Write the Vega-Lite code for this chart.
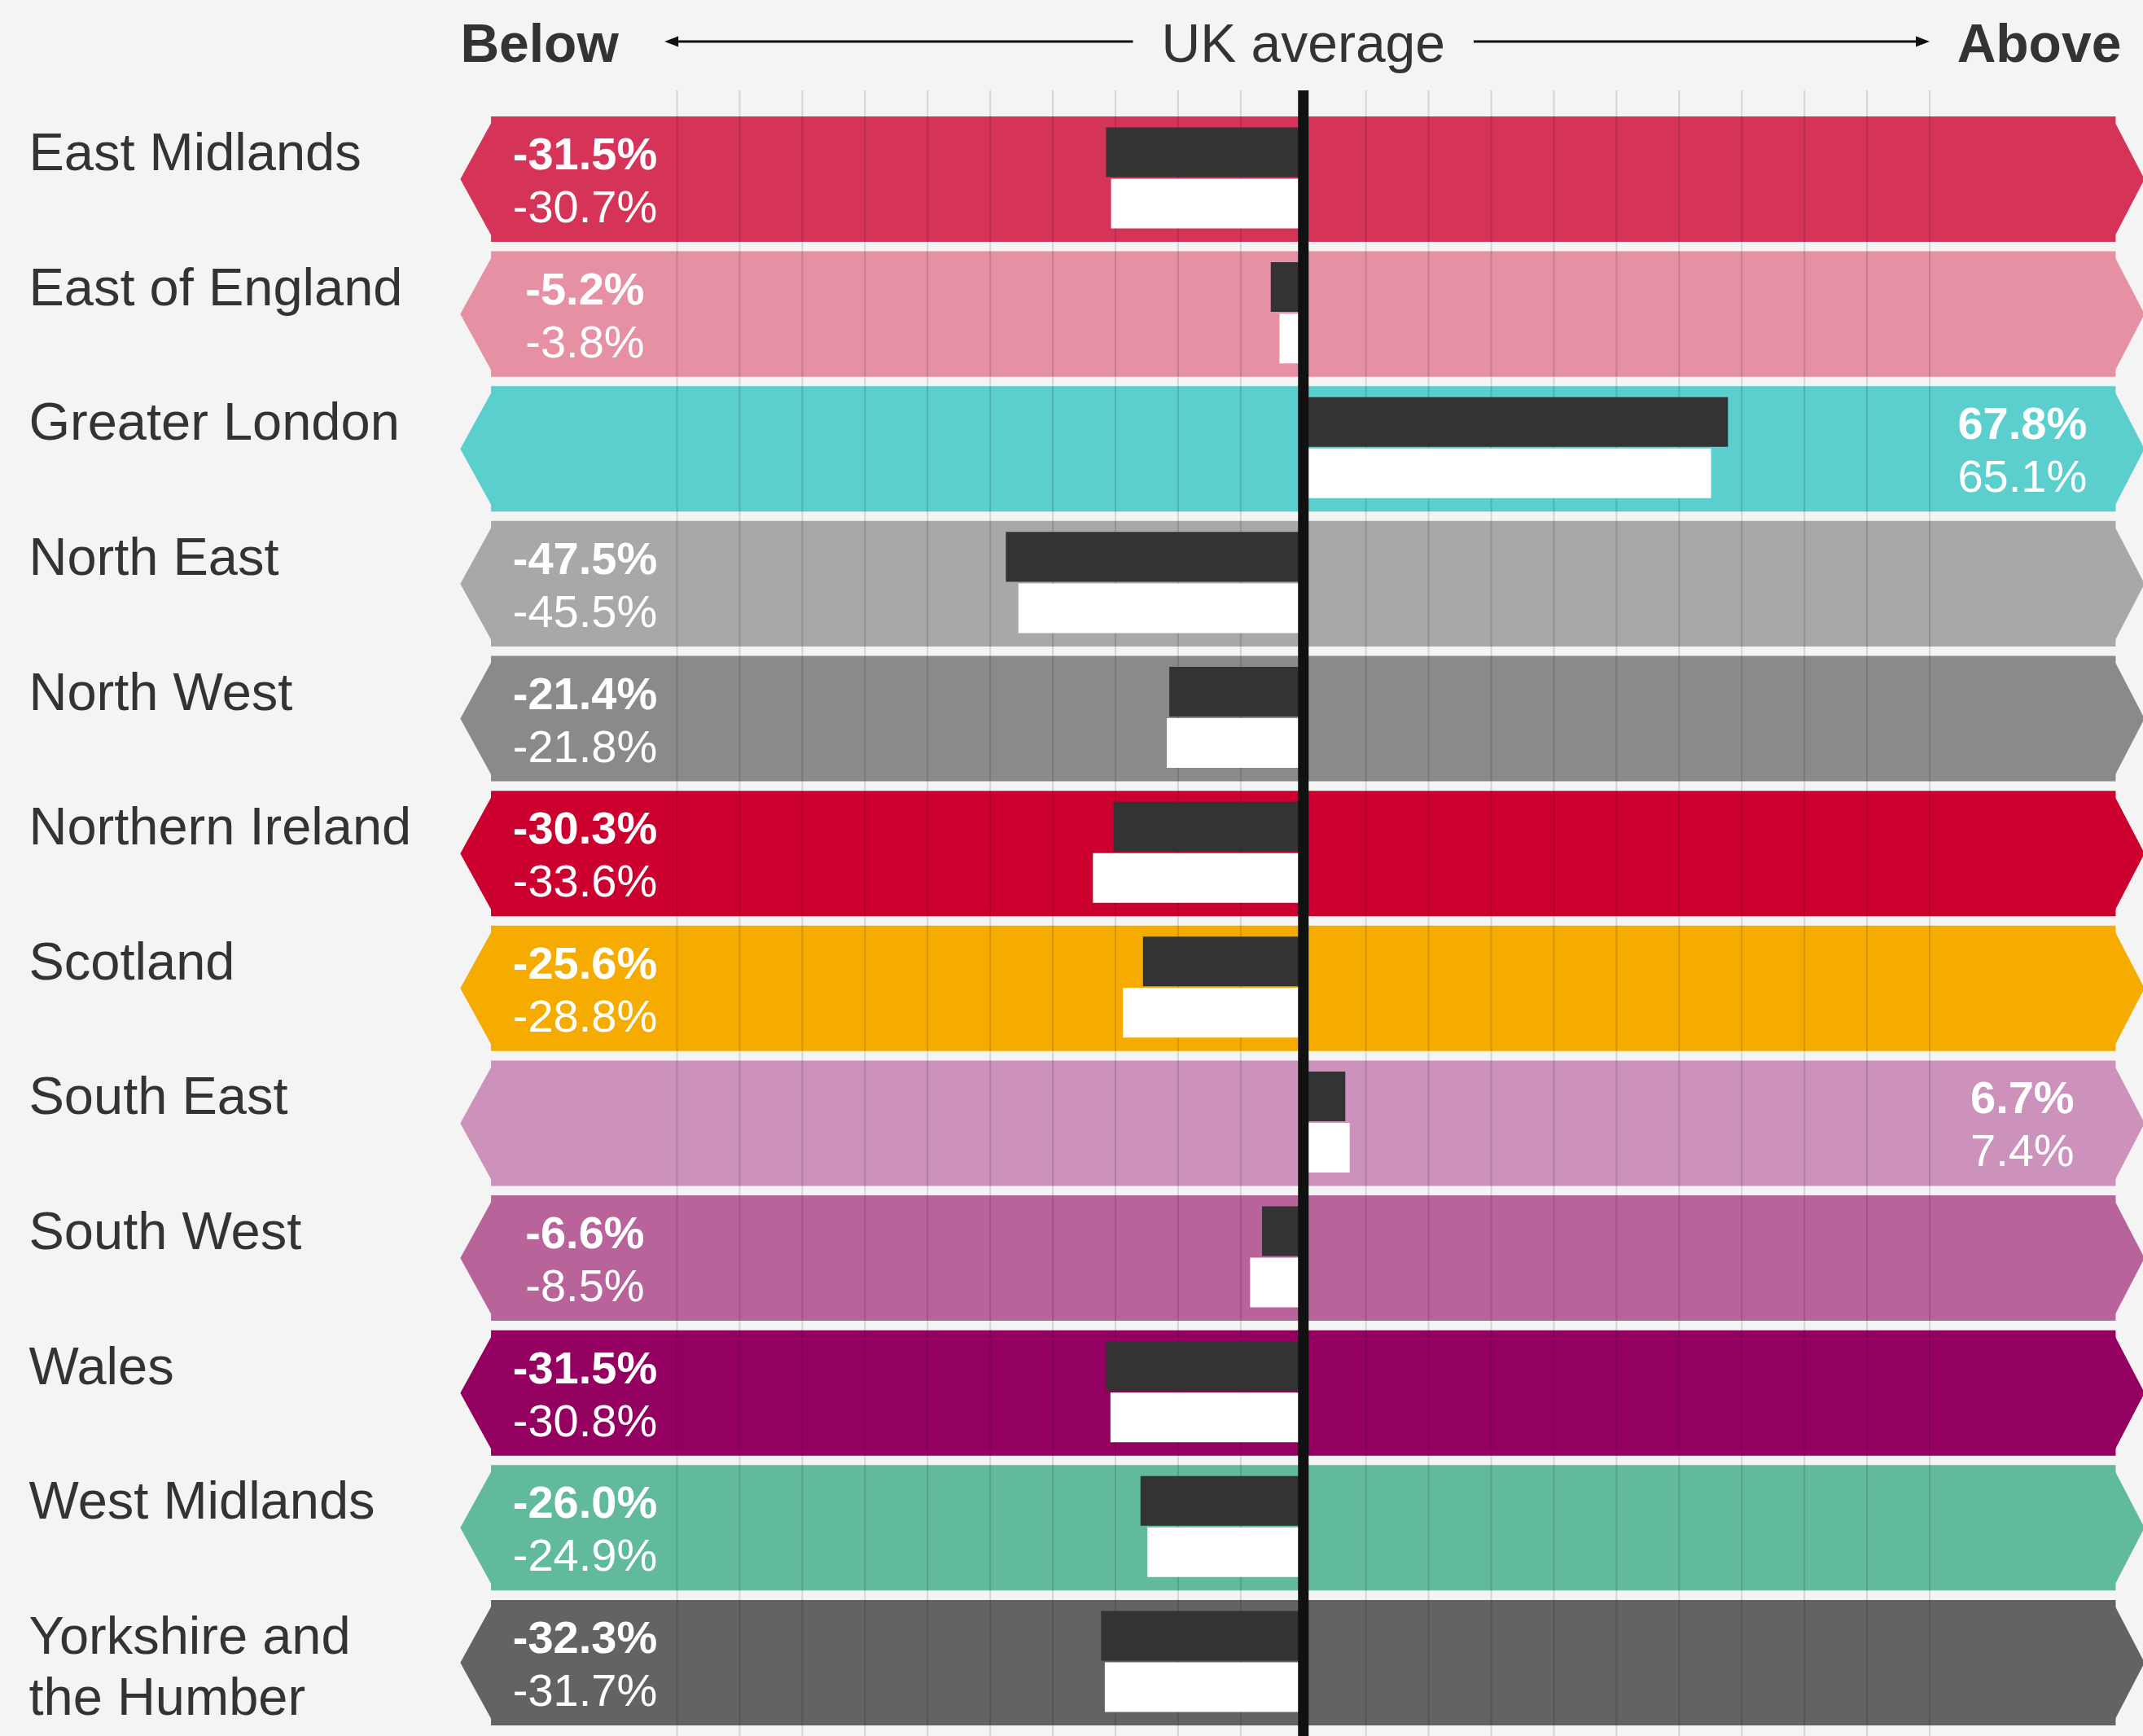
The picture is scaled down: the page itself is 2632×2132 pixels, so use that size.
{
  "$schema": "https://vega.github.io/schema/vega-lite/v6.json",
  "background": "#f4f4f4",
  "padding": {"left": 35, "top": 0, "right": 0, "bottom": 0},
  "autosize": {"type": "pad"},
  "bounds": "flush",
  "spacing": 9,
  "config": {"view": {"stroke": null}, "font": "Liberation Sans"},
  "datasets": {
    "regions": [
      {"region": "East Midlands", "series": "first", "value": -31.5},
      {"region": "East Midlands", "series": "second", "value": -30.7},
      {"region": "East of England", "series": "first", "value": -5.2},
      {"region": "East of England", "series": "second", "value": -3.8},
      {"region": "Greater London", "series": "first", "value": 67.8},
      {"region": "Greater London", "series": "second", "value": 65.1},
      {"region": "North East", "series": "first", "value": -47.5},
      {"region": "North East", "series": "second", "value": -45.5},
      {"region": "North West", "series": "first", "value": -21.4},
      {"region": "North West", "series": "second", "value": -21.8},
      {"region": "Northern Ireland", "series": "first", "value": -30.3},
      {"region": "Northern Ireland", "series": "second", "value": -33.6},
      {"region": "Scotland", "series": "first", "value": -25.6},
      {"region": "Scotland", "series": "second", "value": -28.8},
      {"region": "South East", "series": "first", "value": 6.7},
      {"region": "South East", "series": "second", "value": 7.4},
      {"region": "South West", "series": "first", "value": -6.6},
      {"region": "South West", "series": "second", "value": -8.5},
      {"region": "Wales", "series": "first", "value": -31.5},
      {"region": "Wales", "series": "second", "value": -30.8},
      {"region": "West Midlands", "series": "first", "value": -26.0},
      {"region": "West Midlands", "series": "second", "value": -24.9},
      {"region": "Yorkshire and the Humber", "series": "first", "value": -32.3},
      {"region": "Yorkshire and the Humber", "series": "second", "value": -31.7}
    ],
    "grid": [
      {"tick": -100}, {"tick": -90}, {"tick": -80}, {"tick": -70}, {"tick": -60},
      {"tick": -50}, {"tick": -40}, {"tick": -30}, {"tick": -20}, {"tick": -10},
      {"tick": 10}, {"tick": 20}, {"tick": 30}, {"tick": 40}, {"tick": 50},
      {"tick": 60}, {"tick": 70}, {"tick": 80}, {"tick": 90}, {"tick": 100}
    ]
  },
  "vconcat": [
    {
      "width": 2061.5,
      "height": 102,
      "data": {"values": [{"caption": "UK average"}]},
      "layer": [
        {
          "mark": {"type": "text", "fontSize": 66, "fontWeight": "bold", "color": "#333333", "align": "left", "baseline": "alphabetic", "dy": 25},
          "encoding": {
            "x": {"datum": -134.6, "type": "quantitative", "scale": {"domain": [-134, 134], "nice": false, "zero": false}, "axis": null},
            "text": {"value": "Below"}
          }
        },
        {
          "mark": {"type": "text", "fontSize": 66, "color": "#333333", "align": "center", "baseline": "alphabetic", "dy": 25},
          "encoding": {
            "x": {"datum": 0, "type": "quantitative", "scale": {"domain": [-134, 134], "nice": false, "zero": false}, "axis": null},
            "text": {"field": "caption"}
          }
        },
        {
          "mark": {"type": "text", "fontSize": 66, "fontWeight": "bold", "color": "#333333", "align": "right", "baseline": "alphabetic", "dy": 25},
          "encoding": {
            "x": {"datum": 130.6, "type": "quantitative", "scale": {"domain": [-134, 134], "nice": false, "zero": false}, "axis": null},
            "text": {"value": "Above"}
          }
        },
        {
          "mark": {"type": "rule", "color": "#111111", "strokeWidth": 3},
          "encoding": {
            "x": {"datum": -100.5, "type": "quantitative", "scale": {"domain": [-134, 134], "nice": false, "zero": false}, "axis": null},
            "x2": {"datum": -27.2}
          }
        },
        {
          "mark": {"type": "rule", "color": "#111111", "strokeWidth": 3},
          "encoding": {
            "x": {"datum": 27.2, "type": "quantitative", "scale": {"domain": [-134, 134], "nice": false, "zero": false}, "axis": null},
            "x2": {"datum": 98.3}
          }
        },
        {
          "mark": {"type": "point", "shape": "M-0.85,0L0.85,-0.65L0.85,0.65Z", "size": 400, "filled": true, "opacity": 1, "color": "#111111", "strokeWidth": 0},
          "encoding": {
            "x": {"datum": -100.9, "type": "quantitative", "scale": {"domain": [-134, 134], "nice": false, "zero": false}, "axis": null}
          }
        },
        {
          "mark": {"type": "point", "shape": "M0.85,0L-0.85,-0.65L-0.85,0.65Z", "size": 400, "filled": true, "opacity": 1, "color": "#111111", "strokeWidth": 0},
          "encoding": {
            "x": {"datum": 98.9, "type": "quantitative", "scale": {"domain": [-134, 134], "nice": false, "zero": false}, "axis": null}
          }
        }
      ]
    },
    {
      "width": 2061.5,
      "height": 2021,
      "layer": [
        {
          "data": {"name": "regions"},
          "transform": [{"filter": "datum.series == 'first'"}],
          "mark": {"type": "bar"},
          "encoding": {
            "y": {
              "field": "region", "type": "nominal", "sort": null,
              "scale": {"type": "band", "domain": ["East Midlands", "East of England", "Greater London", "North East", "North West", "Northern Ireland", "Scotland", "South East", "South West", "Wales", "West Midlands", "Yorkshire and the Humber"], "paddingInner": 0.07, "paddingOuter": 0.136, "align": 0.71},
              "axis": {
                "title": null, "domain": false, "ticks": false, "tickSize": 0, "grid": false,
                "labelAlign": "left", "labelPadding": 535, "labelFontSize": 65, "labelColor": "#333333",
                "labelBaseline": "alphabetic", "labelOffset": -11, "labelLineHeight": 75, "labelLimit": 0, "labelOverlap": false,
                "labelExpr": "datum.value == 'Yorkshire and the Humber' ? ['Yorkshire and', 'the Humber'] : datum.label"
              }
            },
            "x": {"datum": -129.7, "type": "quantitative", "scale": {"domain": [-134, 134], "nice": false, "zero": false}, "axis": null},
            "x2": {"datum": 129.7},
            "color": {
              "field": "region", "type": "nominal",
              "scale": {
                "domain": ["East Midlands", "East of England", "Greater London", "North East", "North West", "Northern Ireland", "Scotland", "South East", "South West", "Wales", "West Midlands", "Yorkshire and the Humber"],
                "range": ["#d63358", "#e691a3", "#5bcece", "#a8a8a8", "#8a8a8a", "#cc002e", "#f5ab00", "#cc92bb", "#b8649b", "#930060", "#61bb9b", "#636363"]
              },
              "legend": null
            }
          }
        },
        {
          "data": {"name": "regions"},
          "transform": [{"filter": "datum.series == 'first'"}],
          "mark": {"type": "point", "shape": "M0.06,-1L-0.49,0L0.06,1Z", "size": 23716, "filled": true, "opacity": 1, "strokeWidth": 0},
          "encoding": {
            "y": {"field": "region", "type": "nominal", "sort": null},
            "x": {"datum": -129.7, "type": "quantitative", "scale": {"domain": [-134, 134], "nice": false, "zero": false}, "axis": null},
            "color": {"field": "region", "type": "nominal", "legend": null}
          }
        },
        {
          "data": {"name": "regions"},
          "transform": [{"filter": "datum.series == 'first'"}],
          "mark": {"type": "point", "shape": "M-0.06,-1L0.46,0L-0.06,1Z", "size": 23716, "filled": true, "opacity": 1, "strokeWidth": 0},
          "encoding": {
            "y": {"field": "region", "type": "nominal", "sort": null},
            "x": {"datum": 129.7, "type": "quantitative", "scale": {"domain": [-134, 134], "nice": false, "zero": false}, "axis": null},
            "color": {"field": "region", "type": "nominal", "legend": null}
          }
        },
        {
          "data": {"name": "grid"},
          "mark": {"type": "rule", "color": "#000000", "opacity": 0.13, "strokeWidth": 2},
          "encoding": {
            "x": {"field": "tick", "type": "quantitative", "scale": {"domain": [-134, 134], "nice": false, "zero": false}, "axis": null}
          }
        },
        {
          "data": {"name": "regions"},
          "transform": [{"filter": "datum.series == 'first'"}],
          "mark": {"type": "bar", "color": "#333333"},
          "encoding": {
            "y": {"field": "region", "type": "nominal", "sort": null},
            "yOffset": {"field": "series", "type": "nominal", "scale": {"domain": ["first", "second"], "paddingInner": 0.032, "paddingOuter": 0.238, "align": 0.45}},
            "x": {"field": "value", "type": "quantitative", "scale": {"domain": [-134, 134], "nice": false, "zero": false}, "axis": null}
          }
        },
        {
          "data": {"name": "regions"},
          "transform": [{"filter": "datum.series == 'second'"}],
          "mark": {"type": "bar", "color": "#ffffff"},
          "encoding": {
            "y": {"field": "region", "type": "nominal", "sort": null},
            "yOffset": {"field": "series", "type": "nominal"},
            "x": {"field": "value", "type": "quantitative", "scale": {"domain": [-134, 134], "nice": false, "zero": false}, "axis": null}
          }
        },
        {
          "data": {"values": [{"reference": "UK average"}]},
          "mark": {"type": "rule", "color": "#111111", "strokeWidth": 13},
          "encoding": {
            "x": {"datum": 0, "type": "quantitative", "scale": {"domain": [-134, 134], "nice": false, "zero": false}, "axis": null}
          }
        },
        {
          "data": {"name": "regions"},
          "transform": [{"filter": "datum.series == 'first' && datum.value < 0"}, {"calculate": "replace(format(datum.value, '.1f'), '\u2212', '-') + '%'", "as": "lab"}],
          "mark": {"type": "text", "fontSize": 56, "fontWeight": "bold", "color": "#ffffff", "align": "center", "baseline": "middle", "dy": 4},
          "encoding": {
            "y": {"field": "region", "type": "nominal", "sort": null},
            "yOffset": {"field": "series", "type": "nominal"},
            "x": {"datum": -114.7, "type": "quantitative", "scale": {"domain": [-134, 134], "nice": false, "zero": false}, "axis": null},
            "text": {"field": "lab"}
          }
        },
        {
          "data": {"name": "regions"},
          "transform": [{"filter": "datum.series == 'first' && datum.value >= 0"}, {"calculate": "replace(format(datum.value, '.1f'), '\u2212', '-') + '%'", "as": "lab"}],
          "mark": {"type": "text", "fontSize": 56, "fontWeight": "bold", "color": "#ffffff", "align": "center", "baseline": "middle", "dy": 4},
          "encoding": {
            "y": {"field": "region", "type": "nominal", "sort": null},
            "yOffset": {"field": "series", "type": "nominal"},
            "x": {"datum": 114.8, "type": "quantitative", "scale": {"domain": [-134, 134], "nice": false, "zero": false}, "axis": null},
            "text": {"field": "lab"}
          }
        },
        {
          "data": {"name": "regions"},
          "transform": [{"filter": "datum.series == 'second' && datum.value < 0"}, {"calculate": "replace(format(datum.value, '.1f'), '\u2212', '-') + '%'", "as": "lab"}],
          "mark": {"type": "text", "fontSize": 56, "color": "#ffffff", "align": "center", "baseline": "middle", "dy": 6},
          "encoding": {
            "y": {"field": "region", "type": "nominal", "sort": null},
            "yOffset": {"field": "series", "type": "nominal"},
            "x": {"datum": -114.7, "type": "quantitative", "scale": {"domain": [-134, 134], "nice": false, "zero": false}, "axis": null},
            "text": {"field": "lab"}
          }
        },
        {
          "data": {"name": "regions"},
          "transform": [{"filter": "datum.series == 'second' && datum.value >= 0"}, {"calculate": "replace(format(datum.value, '.1f'), '\u2212', '-') + '%'", "as": "lab"}],
          "mark": {"type": "text", "fontSize": 56, "color": "#ffffff", "align": "center", "baseline": "middle", "dy": 6},
          "encoding": {
            "y": {"field": "region", "type": "nominal", "sort": null},
            "yOffset": {"field": "series", "type": "nominal"},
            "x": {"datum": 114.8, "type": "quantitative", "scale": {"domain": [-134, 134], "nice": false, "zero": false}, "axis": null},
            "text": {"field": "lab"}
          }
        }
      ]
    }
  ]
}
